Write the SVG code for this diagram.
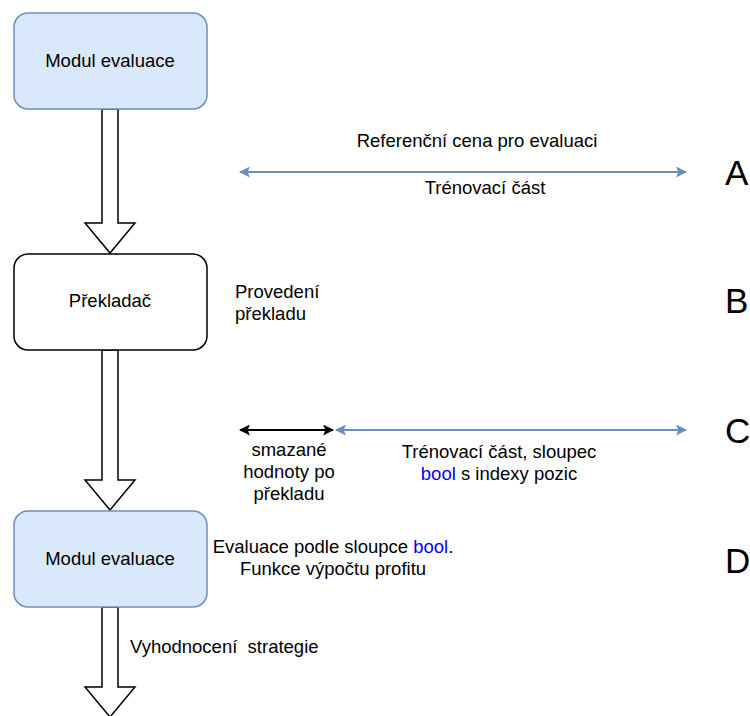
<svg xmlns="http://www.w3.org/2000/svg" width="750" height="716" viewBox="0 0 750 716">
<style>
text{font-family:"Liberation Sans",Arial,sans-serif;font-size:18.5px;fill:#000}
.node-blue{fill:#dae8fc;stroke:#6c8ebf;stroke-width:1.5}
.node-white{fill:#fff;stroke:#000;stroke-width:1.5}
.big{fill:#fff;stroke:#000;stroke-width:1.5;stroke-linejoin:miter}
.line-blue{stroke:#6c8ebf;stroke-width:2;fill:none}
.line-black{stroke:#000;stroke-width:2;fill:none}
.letter{font-size:35px}
.b{fill:#0000ff}
.c{text-anchor:middle}
</style>
<defs>
<marker id="hb" viewBox="0 0 10 10" refX="9" refY="5" markerWidth="5.5" markerHeight="5.5" orient="auto-start-reverse" markerUnits="strokeWidth">
<path d="M0,0 L10,5 L0,10 L2,5 Z" fill="#6c8ebf"/>
</marker>
<marker id="hk" viewBox="0 0 10 10" refX="9" refY="5" markerWidth="5.5" markerHeight="5.5" orient="auto-start-reverse" markerUnits="strokeWidth">
<path d="M0,0 L10,5 L0,10 L2,5 Z" fill="#000"/>
</marker>
</defs>
<g id="connectors">
<path class="big" d="M102,109 L118,109 L118,223 L135,223 L110,253 L85,223 L102,223 Z"/>
<path class="big" d="M102,350 L118,350 L118,480 L135,480 L110,510 L85,480 L102,480 Z"/>
<path class="big" d="M102,607 L118,607 L118,687 L135,687 L110,717 L85,687 L102,687 Z"/>
<line class="line-blue" x1="240" y1="172" x2="686" y2="172" marker-start="url(#hb)" marker-end="url(#hb)"/>
<line class="line-black" x1="240" y1="430" x2="333" y2="430" marker-start="url(#hk)" marker-end="url(#hk)"/>
<line class="line-blue" x1="336" y1="430" x2="686" y2="430" marker-start="url(#hb)" marker-end="url(#hb)"/>
</g>
<g id="node-modul1">
<rect class="node-blue" x="14" y="13" width="193" height="96" rx="14"/>
<text class="c" x="110" y="67">Modul evaluace</text>
</g>
<g id="node-prekladac">
<rect class="node-white" x="14" y="254" width="193" height="96" rx="14"/>
<text class="c" x="110" y="307">Překladač</text>
</g>
<g id="node-modul2">
<rect class="node-blue" x="14" y="511" width="193" height="96" rx="14"/>
<text class="c" x="110" y="565">Modul evaluace</text>
</g>
<g id="labels">
<text class="c" x="477" y="147">Referenční cena pro evaluaci</text>
<text class="c" x="485" y="194">Trénovací část</text>
<text x="235" y="298">Provedení</text>
<text x="235" y="320">překladu</text>
<text class="c" x="289" y="456">smazané</text>
<text class="c" x="289" y="478">hodnoty po</text>
<text class="c" x="289" y="500">překladu</text>
<text class="c" x="499" y="458">Trénovací část, sloupec</text>
<text class="c" x="499" y="480"><tspan class="b">bool</tspan> s indexy pozic</text>
<text class="c" x="333" y="553">Evaluace podle sloupce <tspan class="b">bool</tspan>.</text>
<text class="c" x="333" y="575">Funkce výpočtu profitu</text>
<text x="130" y="653" style="white-space:pre" xml:space="preserve">Vyhodnocení  strategie</text>
<text class="letter" x="725" y="185">A</text>
<text class="letter" x="725" y="313">B</text>
<text class="letter" x="725" y="443">C</text>
<text class="letter" x="725" y="573">D</text>
</g>
</svg>
